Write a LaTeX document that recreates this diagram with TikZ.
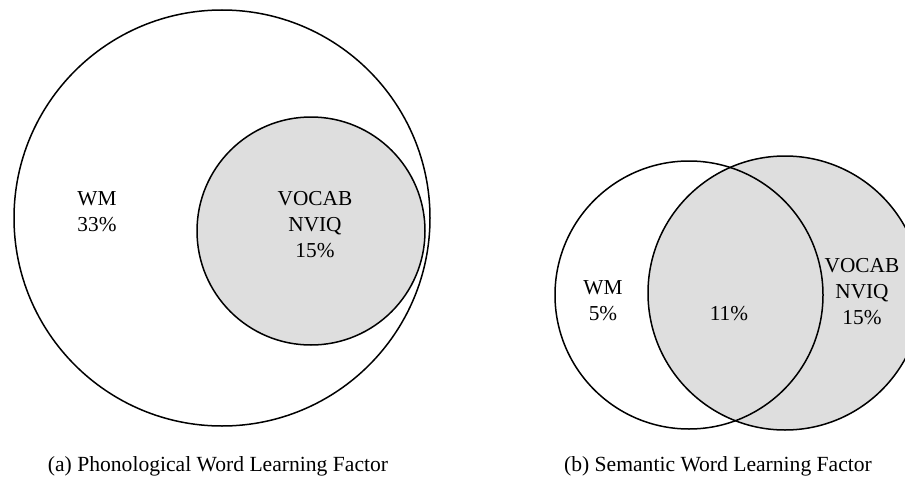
\documentclass[tikz,border=0pt]{standalone}
\usepackage{fontspec}
\setmainfont{Liberation Serif}
\definecolor{venngray}{HTML}{DEDEDE}
\begin{document}
\begin{tikzpicture}[x=1pt,y=-1pt,
  ring/.style={draw=black,line width=1.5pt},
  lbl/.style={font=\fontsize{21.3}{26}\selectfont,align=center,inner sep=0pt},
  captext/.style={font=\fontsize{21.6}{24}\selectfont,inner sep=0pt}]
\useasboundingbox (0,0) rectangle (905,487);
\clip (0,0) rectangle (905,487);
% (a)
\draw[ring,fill=white] (222,218) circle (208);
\draw[ring,fill=venngray] (311,231) circle (114);
\node[lbl] (wma) at (97,212) {WM\\33\%};
\node[lbl] (voca) at (315,225) {VOCAB\\NVIQ\\15\%};
\node[captext] (capa) at (218,466) {(a) Phonological Word Learning Factor};
% (b)
\draw[ring,fill=venngray] (785,293) circle (137);
\draw[ring] (689,295) circle (134);
\node[lbl] (wmb) at (603,301) {WM\\5\%};
\node[lbl] (mid) at (729,314) {11\%};
\node[lbl] (vocb) at (862,292) {VOCAB\\NVIQ\\15\%};
\node[captext] (capb) at (718,466) {(b) Semantic Word Learning Factor};
\end{tikzpicture}
\end{document}
